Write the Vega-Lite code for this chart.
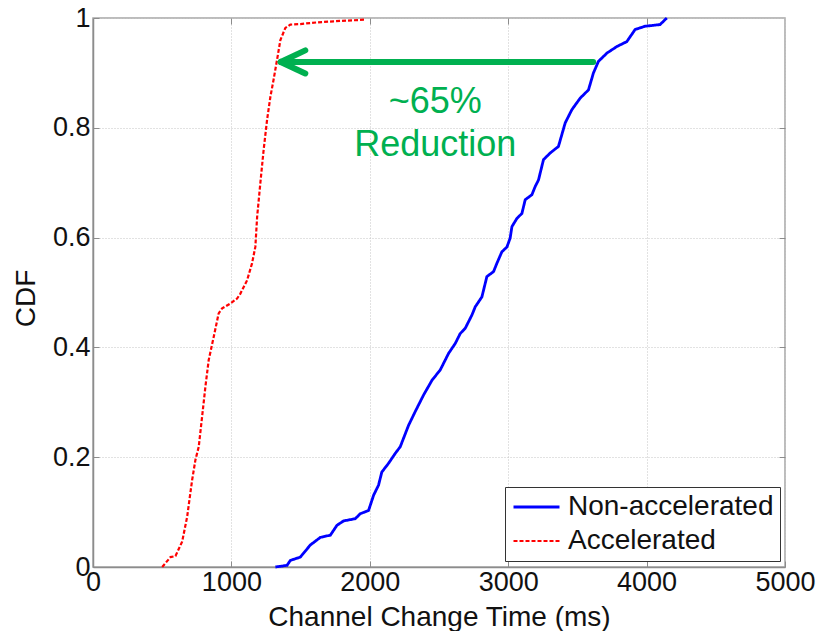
{
  "$schema": "https://vega.github.io/schema/vega-lite/v6.json",
  "width": 692,
  "height": 549,
  "autosize": {"type": "none"},
  "padding": {"left": 93, "top": 18, "right": 36, "bottom": 64},
  "background": "white",
  "config": {
    "font": "Liberation Sans",
    "view": {"stroke": "#a6a6a6", "strokeWidth": 1.5},
    "axis": {
      "labelFont": "Liberation Sans",
      "titleFont": "Liberation Sans",
      "labelFontSize": 27,
      "titleFontSize": 28,
      "labelColor": "#111",
      "titleColor": "#111",
      "titleFontWeight": "normal",
      "domainColor": "#8c8c8c",
      "domainWidth": 1.5,
      "tickColor": "#8c8c8c",
      "gridColor": "#c4c4c4",
      "gridDash": [1, 2],
      "gridWidth": 1,
      "labelFlush": false,
      "labelOverlap": false
    },
    "legend": {
      "labelFont": "Liberation Sans",
      "labelFontSize": 28,
      "labelColor": "#111",
      "labelLimit": 400
    }
  },
  "datasets": {
    "curves": [
      {"series": "Non-accelerated", "ms": 1318, "cdf": 0.0},
      {"series": "Non-accelerated", "ms": 1402, "cdf": 0.003},
      {"series": "Non-accelerated", "ms": 1426, "cdf": 0.012},
      {"series": "Non-accelerated", "ms": 1498, "cdf": 0.018},
      {"series": "Non-accelerated", "ms": 1570, "cdf": 0.04},
      {"series": "Non-accelerated", "ms": 1643, "cdf": 0.054},
      {"series": "Non-accelerated", "ms": 1715, "cdf": 0.058},
      {"series": "Non-accelerated", "ms": 1763, "cdf": 0.076},
      {"series": "Non-accelerated", "ms": 1811, "cdf": 0.084},
      {"series": "Non-accelerated", "ms": 1895, "cdf": 0.088},
      {"series": "Non-accelerated", "ms": 1931, "cdf": 0.097},
      {"series": "Non-accelerated", "ms": 1991, "cdf": 0.103},
      {"series": "Non-accelerated", "ms": 2028, "cdf": 0.131},
      {"series": "Non-accelerated", "ms": 2063, "cdf": 0.149},
      {"series": "Non-accelerated", "ms": 2087, "cdf": 0.173},
      {"series": "Non-accelerated", "ms": 2136, "cdf": 0.189},
      {"series": "Non-accelerated", "ms": 2184, "cdf": 0.207},
      {"series": "Non-accelerated", "ms": 2220, "cdf": 0.219},
      {"series": "Non-accelerated", "ms": 2280, "cdf": 0.258},
      {"series": "Non-accelerated", "ms": 2328, "cdf": 0.283},
      {"series": "Non-accelerated", "ms": 2388, "cdf": 0.313},
      {"series": "Non-accelerated", "ms": 2449, "cdf": 0.34},
      {"series": "Non-accelerated", "ms": 2509, "cdf": 0.359},
      {"series": "Non-accelerated", "ms": 2569, "cdf": 0.389},
      {"series": "Non-accelerated", "ms": 2617, "cdf": 0.407},
      {"series": "Non-accelerated", "ms": 2653, "cdf": 0.425},
      {"series": "Non-accelerated", "ms": 2690, "cdf": 0.435},
      {"series": "Non-accelerated", "ms": 2738, "cdf": 0.459},
      {"series": "Non-accelerated", "ms": 2762, "cdf": 0.474},
      {"series": "Non-accelerated", "ms": 2810, "cdf": 0.492},
      {"series": "Non-accelerated", "ms": 2846, "cdf": 0.529},
      {"series": "Non-accelerated", "ms": 2894, "cdf": 0.538},
      {"series": "Non-accelerated", "ms": 2918, "cdf": 0.553},
      {"series": "Non-accelerated", "ms": 2954, "cdf": 0.574},
      {"series": "Non-accelerated", "ms": 2991, "cdf": 0.583},
      {"series": "Non-accelerated", "ms": 3014, "cdf": 0.599},
      {"series": "Non-accelerated", "ms": 3027, "cdf": 0.62},
      {"series": "Non-accelerated", "ms": 3063, "cdf": 0.635},
      {"series": "Non-accelerated", "ms": 3099, "cdf": 0.644},
      {"series": "Non-accelerated", "ms": 3123, "cdf": 0.669},
      {"series": "Non-accelerated", "ms": 3171, "cdf": 0.678},
      {"series": "Non-accelerated", "ms": 3195, "cdf": 0.693},
      {"series": "Non-accelerated", "ms": 3219, "cdf": 0.705},
      {"series": "Non-accelerated", "ms": 3255, "cdf": 0.742},
      {"series": "Non-accelerated", "ms": 3303, "cdf": 0.754},
      {"series": "Non-accelerated", "ms": 3363, "cdf": 0.766},
      {"series": "Non-accelerated", "ms": 3412, "cdf": 0.809},
      {"series": "Non-accelerated", "ms": 3460, "cdf": 0.833},
      {"series": "Non-accelerated", "ms": 3520, "cdf": 0.854},
      {"series": "Non-accelerated", "ms": 3580, "cdf": 0.869},
      {"series": "Non-accelerated", "ms": 3616, "cdf": 0.9},
      {"series": "Non-accelerated", "ms": 3652, "cdf": 0.921},
      {"series": "Non-accelerated", "ms": 3713, "cdf": 0.936},
      {"series": "Non-accelerated", "ms": 3785, "cdf": 0.948},
      {"series": "Non-accelerated", "ms": 3857, "cdf": 0.957},
      {"series": "Non-accelerated", "ms": 3917, "cdf": 0.979},
      {"series": "Non-accelerated", "ms": 3989, "cdf": 0.985},
      {"series": "Non-accelerated", "ms": 4097, "cdf": 0.988},
      {"series": "Non-accelerated", "ms": 4146, "cdf": 1.0},
      {"series": "Accelerated", "ms": 500, "cdf": 0.0},
      {"series": "Accelerated", "ms": 560, "cdf": 0.018},
      {"series": "Accelerated", "ms": 596, "cdf": 0.02},
      {"series": "Accelerated", "ms": 644, "cdf": 0.046},
      {"series": "Accelerated", "ms": 680, "cdf": 0.091},
      {"series": "Accelerated", "ms": 716, "cdf": 0.158},
      {"series": "Accelerated", "ms": 740, "cdf": 0.195},
      {"series": "Accelerated", "ms": 764, "cdf": 0.219},
      {"series": "Accelerated", "ms": 788, "cdf": 0.273},
      {"series": "Accelerated", "ms": 812, "cdf": 0.328},
      {"series": "Accelerated", "ms": 836, "cdf": 0.377},
      {"series": "Accelerated", "ms": 872, "cdf": 0.419},
      {"series": "Accelerated", "ms": 908, "cdf": 0.462},
      {"series": "Accelerated", "ms": 933, "cdf": 0.471},
      {"series": "Accelerated", "ms": 993, "cdf": 0.48},
      {"series": "Accelerated", "ms": 1041, "cdf": 0.489},
      {"series": "Accelerated", "ms": 1065, "cdf": 0.498},
      {"series": "Accelerated", "ms": 1113, "cdf": 0.522},
      {"series": "Accelerated", "ms": 1149, "cdf": 0.553},
      {"series": "Accelerated", "ms": 1173, "cdf": 0.583},
      {"series": "Accelerated", "ms": 1186, "cdf": 0.638},
      {"series": "Accelerated", "ms": 1209, "cdf": 0.699},
      {"series": "Accelerated", "ms": 1233, "cdf": 0.76},
      {"series": "Accelerated", "ms": 1258, "cdf": 0.815},
      {"series": "Accelerated", "ms": 1282, "cdf": 0.857},
      {"series": "Accelerated", "ms": 1305, "cdf": 0.888},
      {"series": "Accelerated", "ms": 1330, "cdf": 0.924},
      {"series": "Accelerated", "ms": 1354, "cdf": 0.96},
      {"series": "Accelerated", "ms": 1390, "cdf": 0.982},
      {"series": "Accelerated", "ms": 1426, "cdf": 0.988},
      {"series": "Accelerated", "ms": 1498, "cdf": 0.989},
      {"series": "Accelerated", "ms": 1619, "cdf": 0.992},
      {"series": "Accelerated", "ms": 1739, "cdf": 0.994},
      {"series": "Accelerated", "ms": 1968, "cdf": 0.997}
    ],
    "arrow": [
      {"part": "shaft", "ms": 3614, "ms2": 1362, "cdf": 0.92, "cdf2": 0.92},
      {"part": "arm1", "ms": 1356, "ms2": 1534, "cdf": 0.92, "cdf2": 0.941},
      {"part": "arm2", "ms": 1356, "ms2": 1534, "cdf": 0.92, "cdf2": 0.899}
    ],
    "notes": [
      {"text": "~65%", "ms": 2473, "cdf": 0.827},
      {"text": "Reduction", "ms": 2473, "cdf": 0.748}
    ]
  },
  "layer": [
    {
      "data": {"name": "curves"},
      "mark": {"type": "line", "interpolate": "linear"},
      "encoding": {
        "x": {
          "field": "ms", "type": "quantitative",
          "scale": {"domain": [0, 5000], "nice": false},
          "axis": {
            "values": [0, 1000, 2000, 3000, 4000, 5000],
            "format": "d",
            "title": "Channel Change Time (ms)",
            "grid": true,
            "tickSize": -6,
            "labelPadding": 8,
            "titleBaseline": "alphabetic",
            "titleY": 58
          }
        },
        "y": {
          "field": "cdf", "type": "quantitative",
          "scale": {"domain": [0, 1], "nice": false},
          "axis": {
            "values": [0, 0.2, 0.4, 0.6, 0.8, 1],
            "format": "~g",
            "title": "CDF",
            "grid": true,
            "tickSize": -6,
            "labelPadding": 9,
            "titleX": -67,
            "titleY": 280,
            "titleBaseline": "middle",
            "titleAlign": "center",
            "titleAngle": -90
          }
        },
        "color": {
          "field": "series", "type": "nominal",
          "scale": {"domain": ["Non-accelerated", "Accelerated"], "range": ["#0000ff", "#ff0000"]},
          "legend": {
            "title": null,
            "orient": "none",
            "legendX": 412,
            "legendY": 469,
            "symbolType": "M-1,0H3",
            "symbolSize": 529,
            "symbolStrokeWidth": 2.5,
            "strokeColor": "#333333",
            "fillColor": "white",
            "padding": 6,
            "rowPadding": 6,
            "labelOffset": 29
          }
        },
        "strokeDash": {
          "field": "series", "type": "nominal",
          "scale": {"domain": ["Non-accelerated", "Accelerated"], "range": [[1, 0], [4, 2]]},
          "legend": {
            "title": null,
            "orient": "none",
            "legendX": 412,
            "legendY": 469,
            "symbolType": "M-1,0H3",
            "symbolSize": 529,
            "symbolStrokeWidth": 2.5,
            "strokeColor": "#333333",
            "fillColor": "white",
            "padding": 6,
            "rowPadding": 6,
            "labelOffset": 29
          }
        },
        "strokeWidth": {
          "field": "series", "type": "nominal",
          "scale": {"domain": ["Non-accelerated", "Accelerated"], "range": [2.8, 2.2]},
          "legend": null
        }
      }
    },
    {
      "data": {"name": "arrow"},
      "mark": {"type": "rule", "color": "#00b050", "strokeWidth": 6, "strokeCap": "round"},
      "encoding": {
        "x": {"field": "ms", "type": "quantitative", "axis": null},
        "x2": {"field": "ms2"},
        "y": {"field": "cdf", "type": "quantitative", "axis": null},
        "y2": {"field": "cdf2"}
      }
    },
    {
      "data": {"name": "notes"},
      "mark": {"type": "text", "color": "#00b050", "fontSize": 36, "font": "Liberation Sans", "align": "center", "baseline": "alphabetic"},
      "encoding": {
        "x": {
          "field": "ms", "type": "quantitative",
          "axis": {"orient": "top", "values": [1000, 2000, 3000, 4000], "labels": false, "domain": false, "grid": false, "tickSize": -6, "title": null}
        },
        "y": {
          "field": "cdf", "type": "quantitative",
          "axis": {"orient": "right", "values": [0.2, 0.4, 0.6, 0.8], "labels": false, "domain": false, "grid": false, "tickSize": -6, "title": null}
        },
        "text": {"field": "text", "type": "nominal"}
      }
    }
  ],
  "resolve": {"axis": {"x": "independent", "y": "independent"}}
}
